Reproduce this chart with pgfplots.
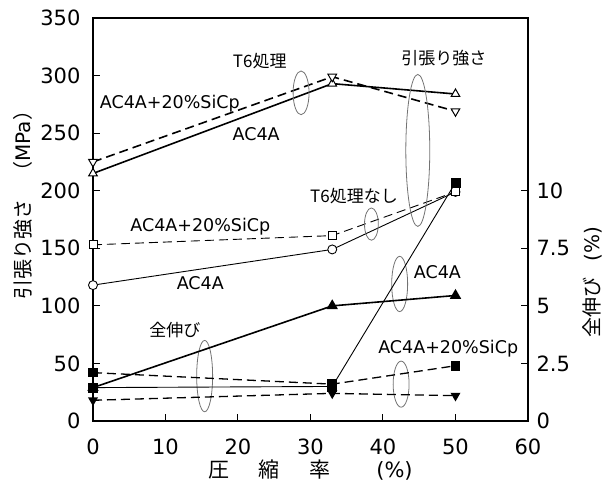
\documentclass[border=0pt]{standalone}
\usepackage{pgfplots}
\pgfplotsset{compat=1.18}
\usepackage{fontspec}
\setmainfont{DejaVu Sans}
\newfontfamily\jp{Noto Sans CJK JP}
\definecolor{ell}{gray}{0.45}
\tikzset{
  t6/.style={line width=1.6pt, black},
  raw/.style={line width=0.9pt, black},
  dsh/.style={dash pattern=on 9pt off 5pt},
  ann/.style={font=\jp\fontsize{17}{17}\selectfont, inner sep=0pt},
  lat/.style={font=\fontsize{17.5}{17.5}\selectfont, inner sep=0pt},
  loop/.style={ell, line width=0.8pt},
}
\begin{document}
\begin{tikzpicture}
\useasboundingbox (-93pt,-67pt) rectangle (513pt,421pt);
\pgfplotsset{
  every axis/.append style={
    at={(0,0)}, anchor=south west,
    scale only axis, width=435pt, height=403pt,
    xmin=0, xmax=60,
    /pgf/number format/assume math mode=true,
    tick label style={font=\fontsize{21}{21}\selectfont},
    label style={font=\fontsize{20}{20}\selectfont},
    tick align=inside, major tick length=7pt,
    axis line style={line width=1.3pt},
    every tick/.style={line width=1pt, black},
    clip=false,
  },
}
\begin{axis}[
  ymin=0, ymax=350, ytick={0,50,...,350}, xtick={0,10,...,60},
  xtick pos=bottom, ytick pos=left,
  xticklabel style={anchor=center, yshift=-26pt},
  yticklabel style={anchor=east, xshift=-9pt},
  ylabel={{\jp 引張り強さ\hspace{0.9em}（}MPa{\jp ）}},
  xlabel={{\jp 圧\hspace{1.4em}縮\hspace{1.4em}率}\hspace{2.2em}(\%)},
  ylabel style={at={(axis description cs:0,0.548)}, anchor=center, yshift=70pt},
  xlabel style={at={(axis description cs:0.5,0)}, anchor=center, yshift=-49pt, font=\fontsize{21}{21}\selectfont},
]
% Tensile strength, T6
\addplot[t6, mark=triangle*, mark size=5pt, mark options={solid, fill=white, line width=1pt}]
  coordinates {(0,215) (33,293) (50,284)};
\addplot[t6, dsh, mark=triangle*, mark size=5pt, mark options={solid, fill=white, rotate=180, line width=1pt}]
  coordinates {(0,225) (33,299) (50,269)};
% Tensile strength, no T6
\addplot[raw, mark=*, mark size=4.5pt, mark options={solid, fill=white, line width=0.9pt}]
  coordinates {(0,118) (33,149) (50,199)};
\addplot[raw, dsh, mark=square*, mark size=4pt, mark options={solid, fill=white, line width=0.9pt}]
  coordinates {(0,153) (33,161) (50,199)};
% annotations
\node[ann] at (axis cs:23,313) {T6処理};
\node[ann] at (axis cs:48.4,315) {引張り強さ};
\node[lat] at (axis cs:10.6,276) {AC4A+20\%SiCp};
\node[lat] at (axis cs:22.5,249) {AC4A};
\node[ann] at (axis cs:36,195) {T6処理なし};
\node[lat] at (axis cs:14.8,169) {AC4A+20\%SiCp};
\node[lat] at (axis cs:14.8,120) {AC4A};
\node[ann] at (axis cs:11.3,79) {全伸び};
\node[lat] at (axis cs:47.5,129) {AC4A};
\node[lat] at (axis cs:49,63) {AC4A+20\%SiCp};
% loops
\draw[loop] (axis cs:28.7,285) ellipse [x radius=1.1, y radius=19];
\draw[loop] (axis cs:44.8,235) ellipse [x radius=1.65, y radius=66];
\draw[loop] (axis cs:38.4,171) ellipse [x radius=0.95, y radius=14];
\draw[loop] (axis cs:42.3,119) ellipse [x radius=1.1, y radius=24];
\draw[loop] (axis cs:42.5,32) ellipse [x radius=1.1, y radius=20];
\draw[loop] (axis cs:15.4,39) ellipse [x radius=1.1, y radius=31];
\end{axis}
\begin{axis}[
  ymin=0, ymax=17.5, axis y line*=right, axis x line=none,
  ytick={0,2.5,5,7.5,10}, yticklabels={0,2.5,5,7.5,10},
  yticklabel style={anchor=west, xshift=5pt},
  ylabel={{\jp 全伸び}\hspace{0.8em}(\%)},
  ylabel style={at={(axis description cs:1,0.345)}, anchor=center, yshift=-64pt},
]
% Elongation
\addplot[t6, mark=triangle*, mark size=5pt, mark options={solid}]
  coordinates {(0,1.45) (33,5.0) (50,5.45)};
\addplot[raw, mark=square*, mark size=4.5pt, mark options={solid}]
  coordinates {(0,1.45) (33,1.5) (50,10.35)};
\addplot[line width=1.3pt, dsh, mark=square*, mark size=4.2pt, mark options={solid}]
  coordinates {(0,2.1) (33,1.6) (50,2.4)};
\addplot[line width=1.3pt, dsh, mark=triangle*, mark size=4.5pt, mark options={solid, rotate=180}]
  coordinates {(0,0.9) (33,1.2) (50,1.1)};
\end{axis}
\end{tikzpicture}
\end{document}
